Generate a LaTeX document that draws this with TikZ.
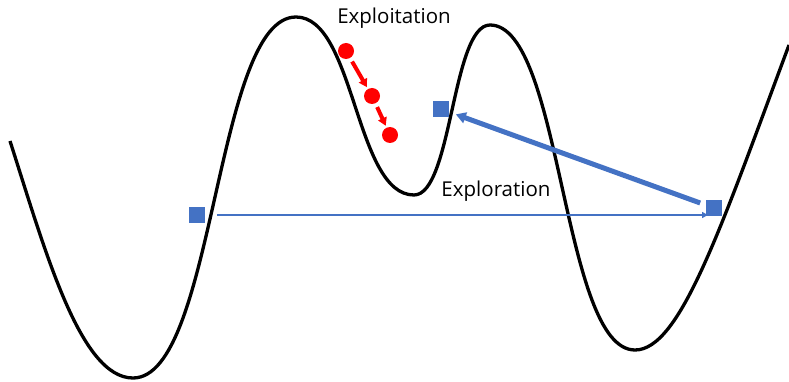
\documentclass[tikz,border=0pt]{standalone}
\usepackage{fontspec}
\setmainfont{Open Sans}
\usetikzlibrary{arrows.meta}
\definecolor{ptblue}{HTML}{4472C4}

\begin{document}
\begin{tikzpicture}[x=1pt, y=-1pt,
  sq/.style={rectangle, fill=ptblue, minimum size=16pt, inner sep=0pt},
  dot/.style={circle, fill=red, minimum size=16pt, inner sep=0pt},
  lbl/.style={font=\fontsize{20.5}{24}\selectfont, inner sep=0pt}]
\useasboundingbox (0,0) rectangle (789,382);
% landscape
\draw[line width=3.3pt] (10,141) .. controls (45,250) and (80,378) .. (133,378)
  .. controls (215,378) and (215,17) .. (296,17)
  .. controls (355,17) and (355,195) .. (414,195)
  .. controls (452,195) and (452,25) .. (490,25)
  .. controls (562,25) and (562,350) .. (635,350)
  .. controls (680,350) and (720,230) .. (789,45);

\node[lbl] (exploit) at (394,18) {Exploitation};
\node[lbl] (explore) at (496,191) {Exploration};

\node[dot] (d1) at (346,51) {};
\node[dot] (d2) at (372,96) {};
\node[dot] (d3) at (390,135) {};

\node[sq] (s1) at (197,215) {};
\node[sq] (s2) at (441,109) {};
\node[sq] (s3) at (714,208) {};

\draw[-{Triangle[length=8pt,width=9pt]}, red, line width=4pt, shorten <=4pt, shorten >=2pt] (d1) -- (d2);
\draw[-{Triangle[length=8pt,width=9pt]}, red, line width=4pt, shorten <=4pt, shorten >=2pt] (d2) -- (d3);
\draw[-{Triangle[length=6pt,width=6pt]}, ptblue, line width=2pt, shorten <=12pt, shorten >=6pt] (s1) -- (s1 -| s3);
\draw[-{Triangle[length=10pt,width=11pt]}, ptblue, line width=5pt, shorten <=6pt, shorten >=7pt] (s3) -- (s2);
\end{tikzpicture}
\end{document}
